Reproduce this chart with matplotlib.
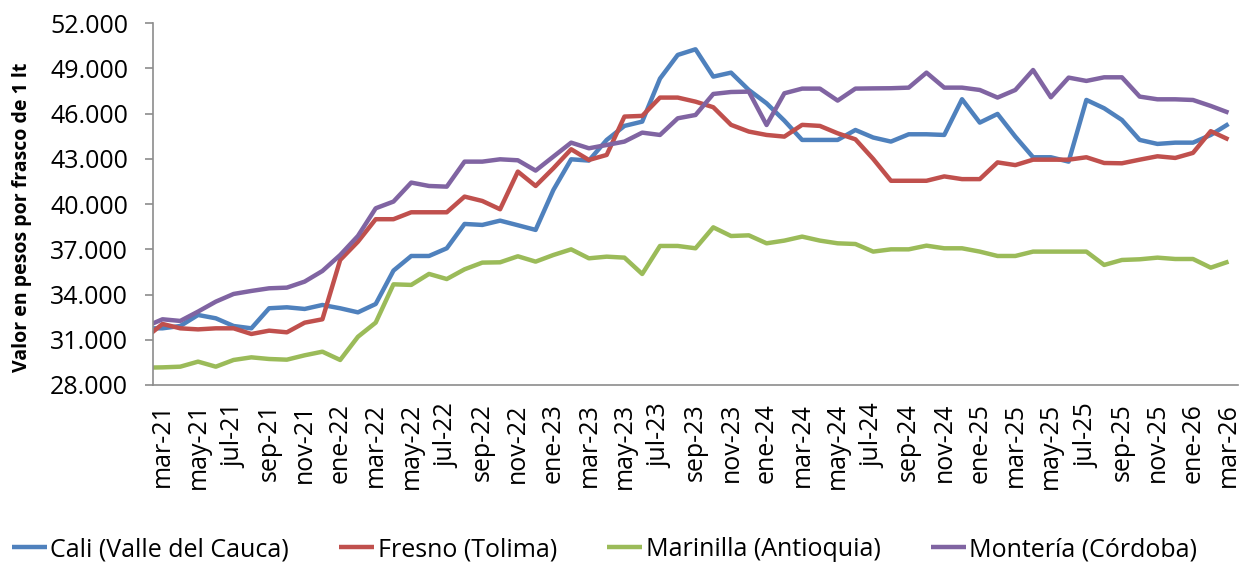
import matplotlib
matplotlib.use("Agg")
import matplotlib.pyplot as plt
from matplotlib.ticker import FuncFormatter

# monthly, feb-21 .. mar-26 (feb-21 only partly visible at the left edge)
meses = ['ene', 'feb', 'mar', 'abr', 'may', 'jun', 'jul', 'ago', 'sep', 'oct', 'nov', 'dic']
periodos = []
for k in range(62):
    m = (1 + k) % 12
    a = 21 + (1 + k) // 12
    periodos.append(f"{meses[m]}-{a}")

cali = [31760, 31760, 31915, 32645, 32425, 31915, 31760, 33090, 33155, 33045, 33310,
        33090, 32820, 33375, 35590, 36560, 36560, 37070, 38685, 38620, 38905,
        38600, 38290, 40940, 42975, 42890, 44260, 45190, 45475, 48330, 49900,
        50275, 48460, 48725, 47575, 46690, 45540, 44260, 44260, 44260, 44920,
        44420, 44150, 44635, 44635, 44590, 46960, 45410, 45985, 44480, 43110,
        43110, 42820, 46915, 46360, 45585, 44260, 43995, 44080, 44080, 44590, 45320]
fresno = [31090, 32050, 31760, 31690, 31760, 31760, 31385, 31605, 31495, 32135, 32360,
          36295, 37510, 39000, 39000, 39460, 39460, 39460, 40500, 40210, 39660,
          42160, 41205, 42380, 43640, 42930, 43265, 45810, 45855, 47070, 47070,
          46800, 46430, 45260, 44815, 44590, 44480, 45260, 45190, 44700, 44300,
          43000, 41550, 41550, 41550, 41840, 41660, 41660, 42770, 42590, 42950,
          42950, 42950, 43110, 42730, 42710, 42950, 43175, 43065, 43400, 44840, 44290]
marinilla = [29150, 29170, 29215, 29550, 29215, 29660, 29835, 29725, 29680, 29970, 30210,
             29660, 31200, 32140, 34680, 34640, 35370, 35030, 35675, 36120, 36140,
             36540, 36185, 36625, 37000, 36405, 36515, 36450, 35365, 37225, 37225,
             37070, 38460, 37885, 37930, 37400, 37580, 37845, 37580, 37400, 37355,
             36850, 37000, 37000, 37245, 37070, 37070, 36850, 36560, 36560, 36850,
             36850, 36850, 36850, 35965, 36295, 36340, 36450, 36360, 36360, 35785, 36185]
monteria = [31850, 32360, 32250, 32870, 33530, 34040, 34240, 34415, 34460, 34860, 35565,
            36625, 37890, 39725, 40170, 41430, 41205, 41160, 42820, 42820, 42975,
            42910, 42225, 43155, 44080, 43705, 43925, 44150, 44745, 44590, 45695,
            45915, 47310, 47440, 47465, 45250, 47355, 47665, 47665, 46870, 47665,
            47680, 47690, 47730, 48725, 47730, 47730, 47575, 47070, 47575, 48900,
            47090, 48395, 48175, 48415, 48415, 47135, 46955, 46955, 46910, 46515, 46070]

series = [("Cali (Valle del Cauca)", cali, "#4F81BD"),
          ("Fresno (Tolima)", fresno, "#C0504D"),
          ("Marinilla (Antioquia)", marinilla, "#9BBB59"),
          ("Montería (Córdoba)", monteria, "#8064A2")]

yticks = list(range(28000, 52001, 3000))

plt.rcParams['font.family'] = ['Open Sans', 'DejaVu Sans']

fig = plt.figure(figsize=(12.49, 5.65), dpi=100)
ax = fig.add_axes([0.1225, 0.3186, 0.8685, 0.6402])

x = list(range(len(periodos)))
for nombre, vals, color in series:
    ax.plot(x, vals, color=color, lw=3.2, label=nombre, solid_joinstyle='round',
            solid_capstyle='butt')

ax.set_xlim(0.465, 61.52)
ax.set_ylim(28000, 52000)
ax.set_yticks(yticks)
ax.yaxis.set_major_formatter(FuncFormatter(lambda v, p: f"{v:,.0f}".replace(",", ".")))

ticks = x[1::2]
ax.set_xticks(ticks)
ax.set_xticklabels([periodos[i] for i in ticks], rotation=90)

for s in ['top', 'right']:
    ax.spines[s].set_visible(False)
for s in ['left', 'bottom']:
    ax.spines[s].set_color('#8c8c8c')
    ax.spines[s].set_linewidth(1.2)
ax.tick_params(axis='y', length=6, width=1.2, color='#8c8c8c', labelsize=18, pad=12)
ax.tick_params(axis='x', length=0, labelsize=18, pad=13)

fig.text(0.018, 0.615, "Valor en pesos por frasco de 1 lt", rotation=90,
         ha='center', va='center', fontsize=14, fontweight='bold')

fig.legend(loc='center', bbox_to_anchor=(0.484, 0.027), ncol=4, frameon=False,
           fontsize=18, handlelength=1.4, handletextpad=0.15, columnspacing=2.0)

fig.savefig("out.png", dpi=100)
